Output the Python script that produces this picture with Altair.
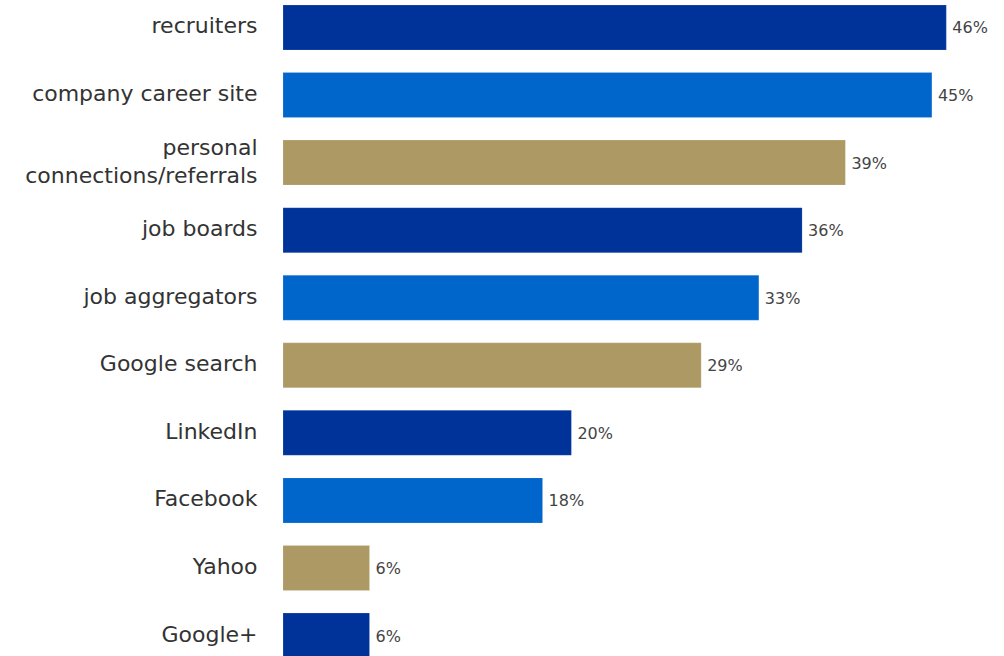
import altair as alt
import pandas as pd

categories = ["recruiters", "company career site", "personal|connections/referrals",
              "job boards", "job aggregators", "Google search", "LinkedIn",
              "Facebook", "Yahoo", "Google+"]
values = [46, 45, 39, 36, 33, 29, 20, 18, 6, 6]
groups = ["a", "b", "c", "a", "b", "c", "a", "b", "c", "a"]
colors = ["#003399", "#0066CC", "#AD9963"]

df = pd.DataFrame({"cat": categories, "val": values, "grp": groups,
                   "lbl": [f"{v}%" for v in values]})

FONT = "DejaVu Sans"

y = alt.Y("cat:N", sort=categories, title=None,
          scale=alt.Scale(paddingInner=0.334, paddingOuter=0.074),
          axis=alt.Axis(domain=False, ticks=False, grid=False, labelPadding=26,
                        labelFont=FONT, labelFontSize=22, labelColor="#333333",
                        labelExpr="split(datum.label, '|')", labelLimit=400,
                        labelLineHeight=28,
                        labelOffset={"condition": {"test": "indexof(datum.label, '|') >= 0", "value": -15},
                                     "value": -1}))
x = alt.X("val:Q", title=None, scale=alt.Scale(domain=[0, 50], nice=False),
          axis=None)

bars = alt.Chart(df).mark_bar(stroke="#ffffff", strokeOpacity=0.3, strokeWidth=0.5).encode(
    x=x, y=y,
    color=alt.Color("grp:N", scale=alt.Scale(domain=["a", "b", "c"], range=colors), legend=None),
)
text = alt.Chart(df).mark_text(align="left", baseline="middle", dx=6, dy=1,
                               font=FONT, fontSize=16, color="#444444").encode(
    x=x, y=y, text="lbl:N")

chart = (bars + text).properties(
    width=721, height=663, background="#ffffff",
    padding={"left": 283, "top": 0, "right": 0, "bottom": 0},
    autosize=alt.AutoSizeParams(type="none"),
).configure_view(stroke="transparent", strokeWidth=0)

chart.save("out.html", embed_options={"renderer": "svg", "actions": False})
